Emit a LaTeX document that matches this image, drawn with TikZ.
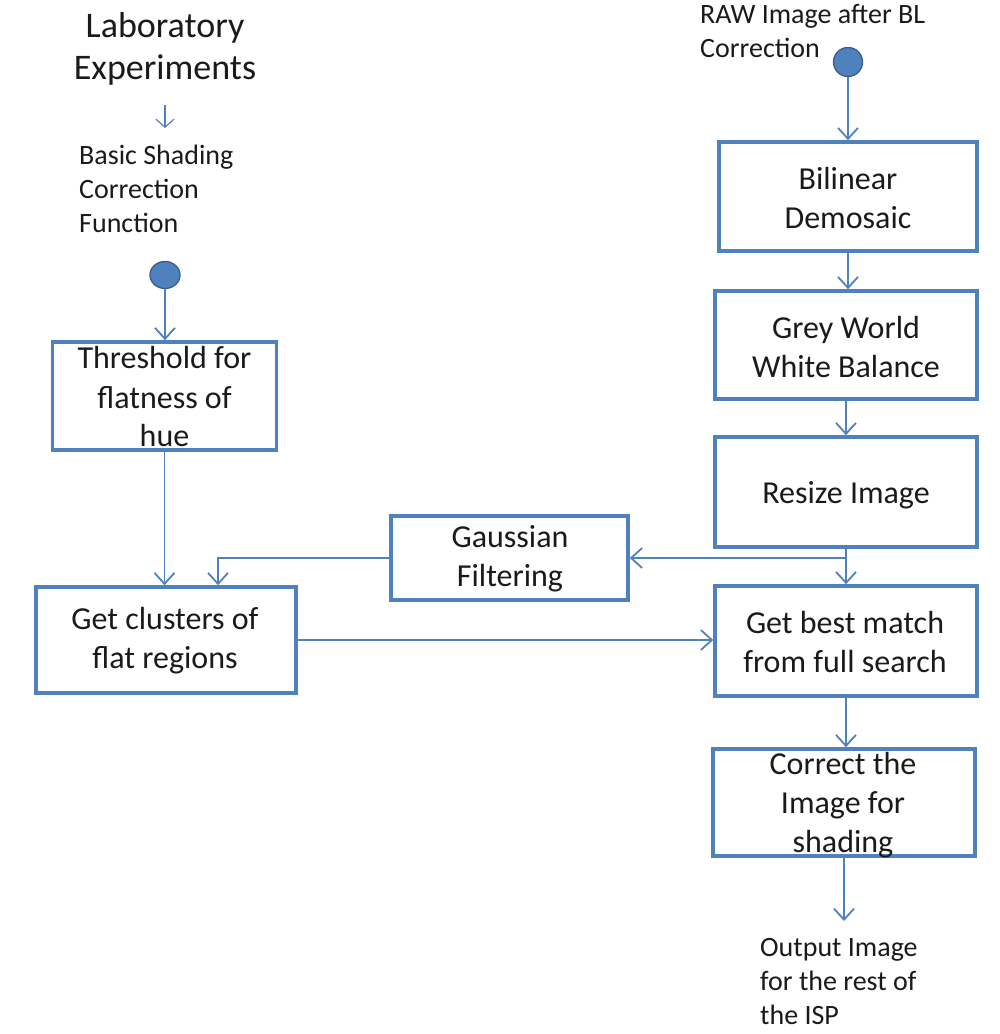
\documentclass[tikz,border=0pt]{standalone}
\usepackage{fontspec}
\setmainfont{Carlito}
\usetikzlibrary{arrows.meta,shapes.geometric}
\definecolor{flowblue}{HTML}{4F81BD}
\definecolor{dotedge}{HTML}{385D8A}
\definecolor{inkgray}{HTML}{1A1A1A}
\tikzset{
  boxframe/.style={draw=flowblue, line width=3.6pt, inner sep=0pt},
  boxtext/.style={font=\fontsize{32pt}{39pt}\selectfont, align=center, inner sep=0pt, text=inkgray},
  smalltext/.style={font=\fontsize{28pt}{34pt}\selectfont, align=left, inner sep=0pt, text=inkgray},
  bigtext/.style={font=\fontsize{36pt}{42pt}\selectfont, align=center, inner sep=0pt, text=inkgray},
  flow/.style={draw=flowblue, line width=1.8pt, -{Straight Barb[length=11pt,width=20pt,line width=1.8pt]}},
  thinflow/.style={draw=flowblue, line width=1.2pt, -{Straight Barb[length=8pt,width=18pt,line width=1.2pt]}},
  plainline/.style={draw=flowblue, line width=1.8pt},
  startdot/.style={ellipse, fill=flowblue, draw=dotedge, line width=1.3pt, inner sep=0pt}
}
\begin{document}
\begin{tikzpicture}[x=1pt,y=-1pt]
\useasboundingbox (0,0) rectangle (1000,1034);

% left column
\node[bigtext] (lab) at (165,49) {Laboratory\\Experiments};
\coordinate (labA) at (165,105);
\coordinate (labB) at (165,128);
\draw[thinflow] (labA) -- (labB);
\node[smalltext, anchor=west] (basic) at (79,189) {Basic Shading\\Correction\\Function};
\node[startdot, minimum width=30pt, minimum height=27pt] (dotl) at (165,275) {};

\node[boxframe, minimum width=224pt, minimum height=108pt] (thr) at (164.5,396) {};
\node[boxtext] (thrt) at (164.5,397) {Threshold for\\flatness of\\hue};

\node[boxframe, minimum width=260pt, minimum height=106pt] (clu) at (166,640) {};
\node[boxtext] (clut) at (165,641) {Get clusters of\\flat regions};

\node[boxframe, minimum width=237pt, minimum height=84pt] (gau) at (509.5,558) {};
\node[boxtext] (gaut) at (510,559) {Gaussian\\Filtering};

% right column
\node[smalltext, anchor=west] (raw) at (700,31.5) {RAW Image after BL\\Correction};
\node[startdot, minimum width=29pt, minimum height=29pt] (dotr) at (848,62) {};

\node[boxframe, minimum width=258pt, minimum height=109pt] (bil) at (848,196.5) {};
\node[boxtext] (bilt) at (848,198) {Bilinear\\Demosaic};

\node[boxframe, minimum width=262pt, minimum height=108pt] (gre) at (846,345) {};
\node[boxtext] (gret) at (846,347) {Grey World\\White Balance};

\node[boxframe, minimum width=262pt, minimum height=110pt] (res) at (846,492) {};
\node[boxtext] (rest) at (846,495) {Resize Image};

\node[boxframe, minimum width=262pt, minimum height=110pt] (gbm) at (846,641) {};
\node[boxtext] (gbmt) at (845,642) {Get best match\\from full search};

\node[boxframe, minimum width=262pt, minimum height=107pt] (cor) at (844,802.5) {};
\node[boxtext] (cort) at (843,805) {Correct the\\Image for\\shading};

\node[smalltext, anchor=west] (outt) at (760,982) {Output Image\\for the rest of\\the ISP};

% connectors
\draw[flow] (dotl.south) -- (dotl.south |- thr.north);
\draw[flow] (thr.south) -- (thr.south |- clu.north);

\draw[flow] (dotr.south) -- (dotr.south |- bil.north);
\draw[flow] (bil.south) -- (bil.south |- gre.north);
\draw[flow] (gre.south) -- (gre.south |- res.north);

\coordinate (jn) at (846,558);
\draw[plainline] (res.south) -- (jn);
\draw[flow] (jn) -- (gau.east);
\draw[flow] (jn) -- (gbm.north);

\coordinate (gbend) at (218,558);
\draw[flow] (gau.west) -- (gbend) -- (gbend |- clu.north);

\draw[flow] (clu.east) -- (clu.east -| gbm.west);
\draw[flow] (gbm.south) -- (gbm.south |- cor.north);

\coordinate (outend) at (848,921);
\draw[flow] (cor.south) -- (cor.south |- outend);
\end{tikzpicture}
\end{document}
